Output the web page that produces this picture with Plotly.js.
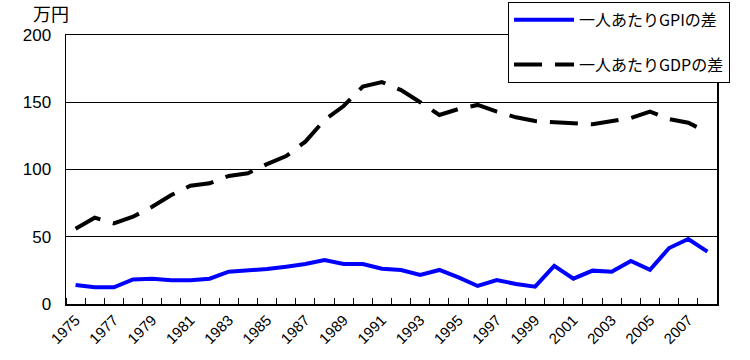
<!DOCTYPE html>
<html><head><meta charset="utf-8">
<script src="https://cdn.plot.ly/plotly-3.0.1.min.js"></script>
<style>body{margin:0;background:#fff}#chart{width:750px;height:360px}</style>
</head><body><div id="chart"></div>
<script>
var years = [1975,1976,1977,1978,1979,1980,1981,1982,1983,1984,1985,1986,1987,1988,1989,1990,1991,1992,1993,1994,1995,1996,1997,1998,1999,2000,2001,2002,2003,2004,2005,2006,2007,2008];
var gpiDiff = [14.1,12.4,12.4,18.3,18.8,17.6,17.6,18.8,24.0,24.8,26.0,27.7,29.7,32.7,29.7,29.7,26.2,25.3,21.6,25.3,19.8,13.4,17.8,14.9,12.9,28.3,18.8,24.8,24.0,32.0,25.5,41.6,48.3,38.9];
var gdpDiff = [56.0,64.2,60.0,64.9,72.3,81.0,88.0,89.7,95.2,97.2,104.0,110.0,120.7,136.8,147.2,161.6,165.0,159.0,150.0,140.5,145.0,148.0,143.0,138.8,136.0,134.8,134.3,133.6,136.0,138.3,143.0,137.5,134.8,127.6];
var tickYears = [1975,1977,1979,1981,1983,1985,1987,1989,1991,1993,1995,1997,1999,2001,2003,2005,2007];
var seriesNames = ['一人あたりGPIの差','一人あたりGDPの差'];
var unitLabel = '万円';

var traces = [
  {x: years, y: gpiDiff, name: seriesNames[0], type: 'scatter', mode: 'lines', legendgroup: 'a',
   line: {color: '#0000FF', width: 4}},
  {x: years, y: gdpDiff, name: seriesNames[1], type: 'scatter', mode: 'lines', legendgroup: 'b',
   line: {color: '#000000', width: 4, dash: '28px,13px'}}
];
var layout = {
  width: 750, height: 360,
  margin: {l: 66, r: 33, t: 35, b: 56, autoexpand: false},
  paper_bgcolor: '#fff', plot_bgcolor: '#fff',
  font: {family: 'Liberation Sans, Arial, sans-serif', size: 15, color: '#000'},
  showlegend: true,
  legend: {x: 0.679, y: 1.123, xanchor: 'left', yanchor: 'top', bgcolor: '#fff',
    bordercolor: '#000', borderwidth: 1, tracegroupgap: 21, traceorder: 'grouped',
    itemwidth: 60, font: {family: 'Noto Sans CJK JP, sans-serif', size: 16, color: '#000'}},
  xaxis: {range: [1974.5, 2008.5], tickmode: 'array', tickvals: tickYears, ticktext: tickYears.map(String),
    tickangle: -45, ticks: '', showgrid: false, zeroline: false, showline: true, linecolor: '#000',
    linewidth: 1.5, mirror: true, tickfont: {size: 15},
    minor: {tick0: 1974.5, dtick: 1, ticks: 'inside', ticklen: 6, tickcolor: '#000', tickwidth: 1, showgrid: false}},
  yaxis: {range: [0, 200], dtick: 50, showgrid: true, gridcolor: '#000', gridwidth: 1, zeroline: false,
    showline: true, linecolor: '#000', linewidth: 1.5, mirror: true, ticks: '', ticklabelstandoff: 10,
    tickfont: {size: 17}},
  annotations: [{text: unitLabel, xref: 'paper', yref: 'paper', x: -0.023, y: 1.0, xanchor: 'center', yanchor: 'bottom',
    yshift: 7, showarrow: false, font: {family: 'Noto Sans CJK JP, sans-serif', size: 18, color: '#000'}}]
};
Plotly.newPlot('chart', traces, layout, {displayModeBar: false, staticPlot: true});
</script></body></html>
